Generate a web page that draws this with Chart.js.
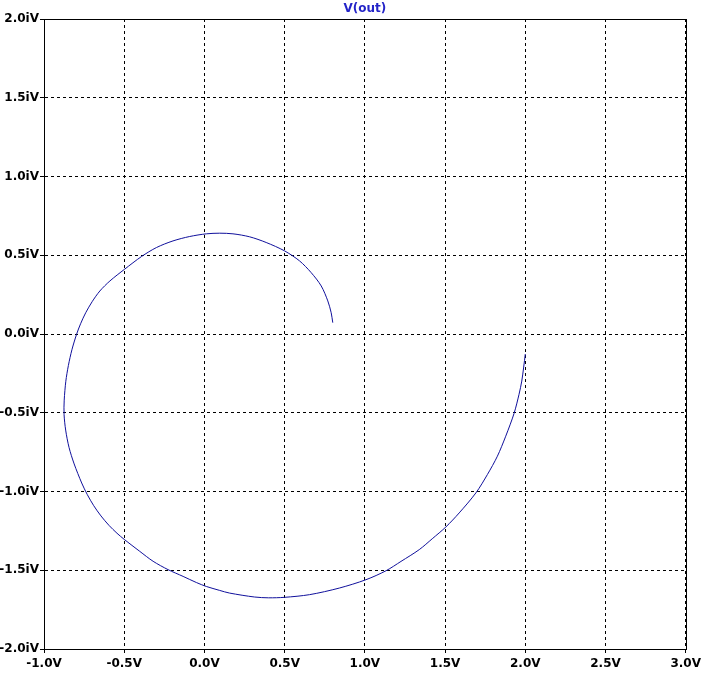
<!DOCTYPE html>
<html>
<head>
<meta charset="utf-8">
<script src="https://cdn.jsdelivr.net/npm/chart.js@4/dist/chart.umd.min.js"></script>
<style>
    html, body { margin: 0; padding: 0; background: #fff; overflow: hidden; }
    #wrap { width: 705px; height: 674px; }
</style>
</head>
<body>
<div id="wrap"><canvas id="plot"></canvas></div>
<script>
const outRe = [0.800, 0.790, 0.769, 0.728, 0.665, 0.593, 0.499, 0.385, 0.282, 0.178, 0.095, 0.012,
    -0.092, -0.196, -0.299, -0.392, -0.498, -0.589, -0.652, -0.700, -0.740, -0.772, -0.797, -0.826,
    -0.848, -0.864, -0.874, -0.875, -0.865, -0.844, -0.812, -0.765, -0.730, -0.690, -0.645, -0.595,
    -0.545, -0.500, -0.403, -0.320, -0.227, -0.133, -0.050, 0.012, 0.095, 0.157, 0.313, 0.400, 0.499,
    0.655, 0.841, 1.007, 1.132, 1.225, 1.339, 1.420, 1.505, 1.588, 1.692, 1.764, 1.826, 1.878, 1.930,
    1.961, 1.978, 1.990, 2.000];
const outIm = [0.072, 0.135, 0.210, 0.305, 0.390, 0.464, 0.528, 0.581, 0.617, 0.636, 0.640, 0.636,
    0.619, 0.591, 0.549, 0.492, 0.411, 0.337, 0.273, 0.205, 0.135, 0.065, -0.002, -0.100,
    -0.200, -0.300, -0.420, -0.510, -0.610, -0.720, -0.825, -0.946, -1.020, -1.090, -1.155, -1.215,
    -1.265, -1.304, -1.380, -1.443, -1.496, -1.539, -1.578, -1.603, -1.628, -1.645, -1.670, -1.675, -1.672,
    -1.655, -1.613, -1.560, -1.503, -1.444, -1.369, -1.300, -1.225, -1.136, -1.009, -0.892, -0.776, -0.649, -0.504,
    -0.383, -0.299, -0.210, -0.127];

const xTicks = [-1.0, -0.5, 0.0, 0.5, 1.0, 1.5, 2.0, 2.5, 3.0];
const yTicks = [-2.0, -1.5, -1.0, -0.5, 0.0, 0.5, 1.0, 1.5, 2.0];
const traceName = 'V(out)';

const tickFont = { family: 'DejaVu Sans', size: 12, weight: 'bold' };

const points = outRe.map((x, i) => ({ x, y: outIm[i] }));

// solid frame round the plot area + trace name on top
const framePlugin = {
    id: 'frame',
    beforeDraw(chart) {
        const ctx = chart.ctx;
        ctx.save();
        ctx.fillStyle = '#fff';
        ctx.fillRect(0, 0, chart.width, chart.height);
        ctx.restore();
    },
    afterDraw(chart) {
        const { ctx, chartArea: a } = chart;
        ctx.save();
        ctx.strokeStyle = '#000';
        ctx.lineWidth = 1;
        ctx.setLineDash([]);
        ctx.strokeRect(Math.round(a.left) + 0.5, Math.round(a.top) + 0.5,
            Math.round(a.right - a.left), Math.round(a.bottom - a.top));
        ctx.fillStyle = '#2424c8';
        ctx.font = 'bold 12px "DejaVu Sans"';
        ctx.textAlign = 'center';
        ctx.textBaseline = 'middle';
        ctx.fillText(traceName, (a.left + a.right) / 2, 9);
        ctx.restore();
    },
};

const gridOpts = {
    color: '#000',
    lineWidth: 1,
    tickLength: 4,
    drawOnChartArea: true,
};

new Chart(document.getElementById('plot').getContext('2d'), {
    type: 'scatter',
    data: {
        datasets: [
            {
                label: traceName,
                data: points,
                showLine: true,
                borderColor: '#10109c',
                borderWidth: 1,
                pointRadius: 0,
                tension: 0.3,
                fill: false,
            },
        ],
    },
    options: {
        responsive: true,
        maintainAspectRatio: false,
        animation: false,
        layout: { padding: { top: 19, right: 16, left: 0, bottom: 0 } },
        plugins: {
            legend: { display: false },
            tooltip: { enabled: false },
            title: { display: false },
        },
        scales: {
            x: {
                type: 'linear',
                min: -1.0,
                max: 3.0,
                afterBuildTicks: (scale) => { scale.ticks = xTicks.map((v) => ({ value: v })); },
                afterFit: (scale) => { scale.height = 25; },
                grid: gridOpts,
                border: { display: true, color: '#000', width: 1, dash: [3, 3] },
                ticks: {
                    color: '#000',
                    font: tickFont,
                    padding: 4,
                    maxRotation: 0,
                    autoSkip: false,
                    callback: (v) => Number(v).toFixed(1) + 'V',
                },
            },
            y: {
                type: 'linear',
                min: -2.0,
                max: 2.0,
                afterBuildTicks: (scale) => { scale.ticks = yTicks.map((v) => ({ value: v })); },
                afterFit: (scale) => { scale.width = 44; },
                grid: gridOpts,
                border: { display: true, color: '#000', width: 1, dash: [3, 3] },
                ticks: {
                    color: '#000',
                    font: tickFont,
                    padding: 1,
                    autoSkip: false,
                    callback: (v) => Number(v).toFixed(1) + 'iV',
                },
            },
        },
    },
    plugins: [framePlugin],
});
</script>
</body>
</html>
